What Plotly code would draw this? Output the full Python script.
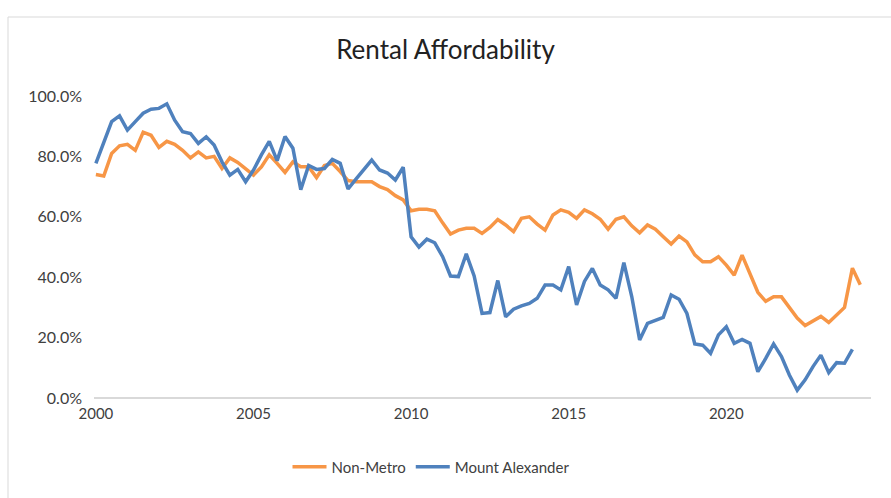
import plotly.graph_objects as go

# Quarterly observations, 2000 Q1 onward
quarters = [2000 + i / 4 for i in range(98)]

non_metro = [
    74, 73.5, 81, 83.5, 84, 82, 88, 87, 83, 85, 84, 82, 79.5, 81.5, 79.5, 80, 76, 79.5, 78, 76,
    73.8, 76.5, 80.5, 77.7, 74.7, 78.2, 76.6, 76.6, 73, 77, 77.7, 75, 72, 71.6, 71.6, 71.6, 70, 69, 67, 65.6,
    62, 62.5, 62.5, 62, 58, 54.3, 55.6, 56.2, 56.2, 54.5, 56.5, 59.1, 57.3, 55.1, 59.5, 60, 57.6, 55.6, 60.6, 62.3,
    61.5, 59.5, 62.3, 61, 59.2, 55.9, 59.2, 60, 57, 54.7, 57.3, 55.9, 53.4, 51, 53.6, 51.7, 47.4, 45.1, 45.1, 46.8,
    44, 40.7, 47.3, 41, 35, 32, 33.5, 33.5, 30, 26.5, 24, 25.5, 27, 25, 27.5, 30, 43, 37.5,
]

mount_alexander = [
    77.7, 84.3, 91.5, 93.4, 88.7, 91.5, 94.3, 95.6, 95.9, 97.4, 92, 88.2, 87.6, 84.3, 86.5, 83.8, 78.2, 73.8, 75.7, 71.6,
    75.5, 80.5, 85, 78.6, 86.6, 82.7, 69, 77, 75.7, 76, 79, 77.7, 69.2, 72.5, 75.5, 78.8, 75.5, 74.5, 72.2, 76.4,
    53.4, 50, 52.6, 51.4, 46.8, 40.4, 40.2, 47.7, 40.4, 28, 28.3, 38.9, 26.9, 29.4, 30.5, 31.3, 33, 37.4, 37.4, 35.8,
    43.5, 30.8, 38.6, 42.9, 37.4, 35.8, 33, 44.8, 33.6, 19.2, 24.7, 25.8, 26.7, 34.1, 32.7, 28, 17.9, 17.5, 14.8, 20.9,
    23.6, 18.1, 19.4, 18.1, 8.7, 13.1, 17.9, 13.7, 7.6, 2.6, 6, 10.4, 14.2, 8.4, 11.7, 11.5, 16.1, None,
]

x_ticks = [2000, 2005, 2010, 2015, 2020]
x_tick_labels = ["2000", "2005", "2010", "2015", "2020"]
y_ticks = [0, 20, 40, 60, 80, 100]
y_tick_labels = ["0.0%", "20.0%", "40.0%", "60.0%", "80.0%", "100.0%"]

W, H = 891, 498
L, R, T, B = 94, 20, 96, 100
FONT = "Lato, Liberation Sans, Arial, sans-serif"

fig = go.Figure()
fig.add_trace(go.Scatter(x=quarters, y=non_metro, name="Non-Metro", mode="lines",
                         line=dict(color="#F79646", width=3.5)))
fig.add_trace(go.Scatter(x=quarters, y=mount_alexander, name="Mount Alexander", mode="lines",
                         line=dict(color="#4F81BD", width=3.5)))

pw = W - L - R
ph = H - T - B
# chart-area border (light grey), starting at (8,17) and running off the right/bottom edges
fig.add_shape(type="rect", xref="paper", yref="paper",
              x0=(8 - L) / pw, x1=(W + 5 - L) / pw,
              y0=(H - B - (H + 5)) / ph, y1=(H - B - 17) / ph,
              line=dict(color="#D9D9D9", width=1), fillcolor="rgba(0,0,0,0)", layer="below")

fig.update_layout(
    width=W, height=H,
    margin=dict(l=L, r=R, t=T, b=B, autoexpand=False),
    paper_bgcolor="white", plot_bgcolor="white",
    font=dict(family=FONT, color="#404040", size=15),
    title=dict(text="Rental Affordability", x=0.5, xanchor="center", y=1 - 50 / H, yanchor="middle",
               font=dict(size=26, color="#222222", family=FONT)),
    showlegend=True,
    legend=dict(orientation="h", x=(431 - L) / pw, xanchor="center", y=(H - B - 467) / ph, yanchor="middle",
                font=dict(size=15, color="#404040"), itemwidth=34),
    xaxis=dict(range=[1999.94, 2024.59], tickmode="array", tickvals=x_ticks, ticktext=x_tick_labels,
               showgrid=False, zeroline=False, showline=False, ticks="", tickfont=dict(size=15),
               ticklabelstandoff=5, automargin=False),
    yaxis=dict(range=[0, 100], tickmode="array", tickvals=y_ticks, ticktext=y_tick_labels,
               showgrid=False, zeroline=True, zerolinecolor="#D9D9D9", zerolinewidth=1.5,
               showline=False, ticks="", tickfont=dict(size=16), ticklabelstandoff=11, automargin=False),
)

fig.write_html("out.html", config={"displayModeBar": False},
               post_script="document.body.style.margin='0';document.body.style.overflow='hidden';")
